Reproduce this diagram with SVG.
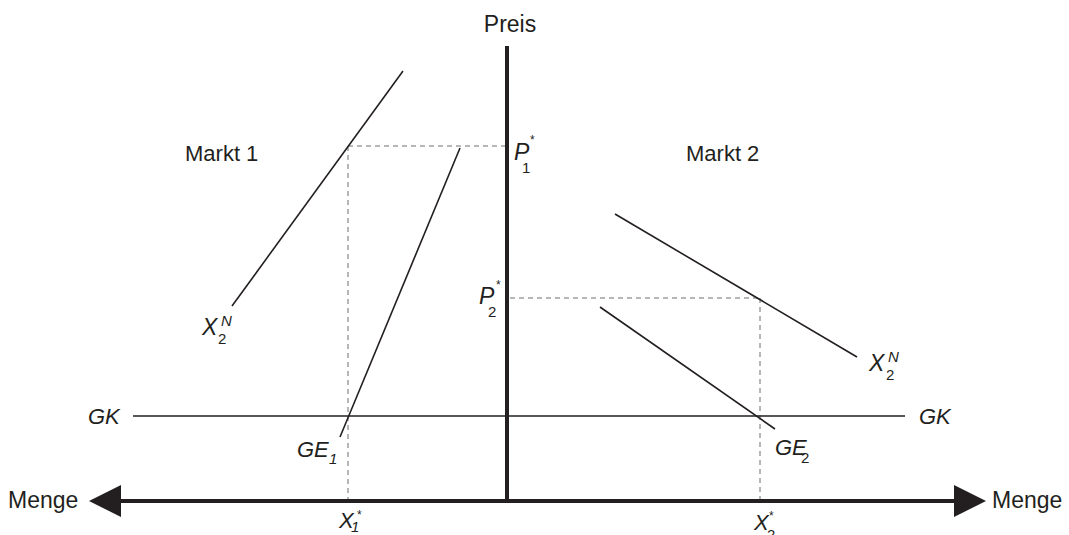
<svg xmlns="http://www.w3.org/2000/svg" width="1069" height="535" viewBox="0 0 1069 535">
<style>
text{font-family:"Liberation Sans",Arial,sans-serif;fill:#231f20}
.lbl{font-size:22px}
.big{font-size:23px}
.it{font-style:italic}
.sub{font-size:15px}
.st{font-size:12px}
.line{stroke:#231f20;stroke-width:1.6;fill:none}
.dash{stroke:#6d6e71;stroke-width:1;stroke-dasharray:5,4;fill:none}
.axis{stroke:#231f20;stroke-width:4;fill:none}
</style>
<defs>
<marker id="ah" markerWidth="8" markerHeight="8" refX="7" refY="4" orient="auto-start-reverse" markerUnits="strokeWidth">
<path d="M0,0 L8,4 L0,8 Z" fill="#231f20"/>
</marker>
</defs>
<rect width="1069" height="535" fill="#fff"/>
<g id="connectors">
<line class="dash" x1="348" y1="146" x2="505" y2="146"/>
<line class="dash" x1="348" y1="146" x2="348" y2="499"/>
<line class="dash" x1="510" y1="298" x2="760" y2="298"/>
<line class="dash" x1="760" y1="298" x2="760" y2="499"/>
<line class="line" x1="133" y1="416" x2="905" y2="416"/>
<line class="line" x1="403" y1="71" x2="232" y2="306"/>
<line class="line" x1="460" y1="148" x2="340" y2="437"/>
<line class="line" x1="615" y1="214" x2="857" y2="357"/>
<line class="line" x1="600" y1="307" x2="775" y2="429"/>
<line class="axis" x1="507" y1="46" x2="507" y2="503"/>
<line x1="93" y1="501" x2="982" y2="501" stroke="#231f20" stroke-width="4" marker-start="url(#ah)" marker-end="url(#ah)"/>
</g>
<g id="labels">
<text class="big" x="510" y="32" text-anchor="middle">Preis</text>
<text class="lbl" x="185" y="161">Markt 1</text>
<text class="lbl" x="686" y="161">Markt 2</text>
<text class="big" x="8" y="508">Menge</text>
<text class="big" x="992" y="508">Menge</text>
<text class="lbl it" x="88" y="424">GK</text>
<text class="lbl it" x="919" y="424">GK</text>
<g id="p1">
<text class="big it" x="514" y="160">P</text>
<text class="sub" x="522" y="173">1</text>
<text class="st" x="530" y="144">*</text>
</g>
<g id="p2">
<text class="big it" x="479" y="304">P</text>
<text class="sub" x="488" y="317">2</text>
<text class="st" x="496" y="289">*</text>
</g>
<g id="x2n-left">
<text class="big it" x="202" y="335">X</text>
<text class="sub" x="218" y="344">2</text>
<text class="sub it" x="221" y="326">N</text>
</g>
<g id="x2n-right">
<text class="big it" x="869" y="371">X</text>
<text class="sub" x="886" y="380">2</text>
<text class="sub it" x="888" y="362">N</text>
</g>
<g id="ge1">
<text class="lbl it" x="297" y="457">GE</text>
<text class="sub it" x="329" y="464">1</text>
</g>
<g id="ge2">
<text class="lbl it" x="775" y="455">GE</text>
<text class="sub" x="801" y="463">2</text>
</g>
<g id="x1">
<text class="lbl it" x="339" y="528">X</text>
<text class="sub it" x="351" y="532">1</text>
<text class="st" x="357" y="519">*</text>
</g>
<g id="x2">
<text class="lbl it" x="754" y="530">X</text>
<text class="sub" x="767" y="540">2</text>
<text class="st" x="769" y="520">*</text>
</g>
</g>
</svg>
